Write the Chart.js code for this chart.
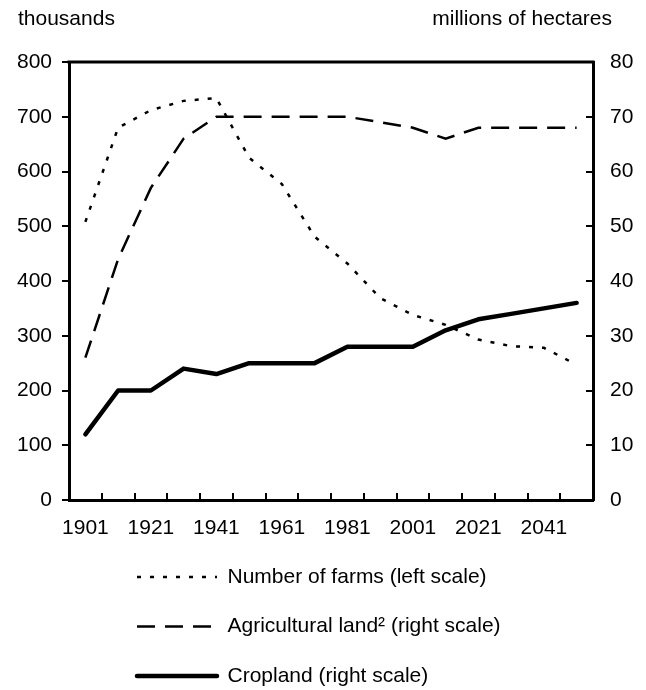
<!DOCTYPE html>
<html>
<head>
<meta charset="utf-8">
<title>Farms, agricultural land and cropland</title>
<script src="https://cdn.jsdelivr.net/npm/chart.js@4.4.1/dist/chart.umd.min.js"></script>
<style>
  html, body { margin: 0; padding: 0; background: #fff; }
  #wrap { width: 646px; height: 690px; position: relative; }
</style>
</head>
<body>
<div id="wrap"><canvas id="farmChart"></canvas></div>
<script>
// categories (one per plotted point) and series
const years = ['1901', '1911', '1921', '1931', '1941', '1951', '1961', '1971',
               '1981', '1991', '2001', '2011', '2021', '2031', '2041', '2051'];
const farms = [508, 680, 712, 729, 734, 625, 577, 481, 432, 369, 338, 320, 293, 281, 278, 247];       // thousands
const agriLand = [26, 44, 57, 66, 70, 70, 70, 70, 70, 69, 68, 66, 68, 68, 68, 68];                   // millions of ha
const cropland = [12, 20, 20, 24, 23, 25, 25, 25, 28, 28, 28, 31, 33, 34, 35, 36];                   // millions of ha

const leftTicks = [0, 800, 100];   // min, max, step
const rightTicks = [0, 80, 10];

const FONT = '"Liberation Sans", Arial, sans-serif';
const legendLeft = 108.5;

Chart.defaults.font.family = FONT;
Chart.defaults.font.size = 21;
Chart.defaults.color = '#000';

// top frame line, unit captions, and legend shift
const frameAndCaptions = {
    id: 'frameAndCaptions',
    afterLayout(chart) {
        if (chart.legend) chart.legend.left = legendLeft;
    },
    afterDraw(chart) {
        const { ctx, chartArea } = chart;
        ctx.save();
        ctx.strokeStyle = '#000';
        ctx.lineWidth = 3;
        ctx.beginPath();
        ctx.moveTo(chartArea.left - 1.5, chartArea.top);
        ctx.lineTo(chartArea.right + 1.5, chartArea.top);
        ctx.stroke();
        ctx.font = '21px ' + FONT;
        ctx.fillStyle = '#000';
        ctx.textBaseline = 'alphabetic';
        ctx.textAlign = 'left';
        ctx.fillText('thousands', 18, 25);
        ctx.textAlign = 'right';
        ctx.fillText('millions of hectares', 612, 25);
        ctx.restore();
    }
};

// legend samples take the line style of their dataset
function lineLegendLabels(chart) {
    const items = Chart.defaults.plugins.legend.labels.generateLabels(chart);
    return items.map(function(item) {
        const ds = chart.data.datasets[item.datasetIndex];
        item.pointStyle = 'line';
        item.strokeStyle = ds.borderColor;
        item.lineWidth = ds.borderWidth;
        item.lineDash = ds.borderDash || [];
        item.lineCap = ds.borderCapStyle || 'butt';
        return item;
    });
}

const ctx = document.getElementById('farmChart').getContext('2d');
new Chart(ctx, {
    type: 'line',
    data: {
        labels: years,
        datasets: [{
            label: 'Number of farms (left scale)',
            data: farms,
            yAxisID: 'y',
            borderColor: '#000',
            backgroundColor: '#000',
            borderWidth: 2.5,
            borderDash: [4, 9],
            pointRadius: 0,
            tension: 0
        }, {
            label: 'Agricultural land\u00b2 (right scale)',
            data: agriLand,
            yAxisID: 'y1',
            borderColor: '#000',
            backgroundColor: '#000',
            borderWidth: 2.5,
            borderDash: [18, 10],
            pointRadius: 0,
            tension: 0
        }, {
            label: 'Cropland (right scale)',
            data: cropland,
            yAxisID: 'y1',
            borderColor: '#000',
            backgroundColor: '#000',
            borderWidth: 4.5,
            borderCapStyle: 'round',
            borderJoinStyle: 'round',
            pointRadius: 0,
            tension: 0
        }]
    },
    options: {
        responsive: true,
        maintainAspectRatio: false,
        animation: false,
        layout: { padding: { top: 62, left: 0, right: 0, bottom: 0 } },
        scales: {
            x: {
                type: 'category',
                offset: true,
                afterFit: (s) => { s.height = 38; },
                grid: { drawOnChartArea: false, offset: true, tickLength: -7, color: '#000', lineWidth: 2 },
                border: { display: true, color: '#000', width: 3 },
                ticks: {
                    autoSkip: false,
                    maxRotation: 0,
                    padding: 23,
                    callback: function(val, idx) { return idx % 2 === 0 ? this.getLabelForValue(val) : ''; }
                }
            },
            y: {
                position: 'left',
                min: leftTicks[0],
                max: leftTicks[1],
                afterFit: (s) => { s.width = 69; },
                grid: { drawOnChartArea: false, tickLength: 7, color: '#000', lineWidth: 2 },
                border: { display: true, color: '#000', width: 3 },
                ticks: { stepSize: leftTicks[2], padding: 10 }
            },
            y1: {
                position: 'right',
                min: rightTicks[0],
                max: rightTicks[1],
                afterFit: (s) => { s.width = 53; },
                grid: { drawOnChartArea: false, tickLength: -7, color: '#000', lineWidth: 2 },
                border: { display: true, color: '#000', width: 3 },
                ticks: { stepSize: rightTicks[2], padding: 24 }
            }
        },
        plugins: {
            tooltip: { enabled: false },
            legend: {
                position: 'bottom',
                align: 'start',
                maxHeight: 152,
                labels: {
                    usePointStyle: true,
                    pointStyle: 'line',
                    pointStyleWidth: 80,
                    padding: 28.5,
                    font: { size: 21 },
                    generateLabels: lineLegendLabels
                }
            }
        }
    },
    plugins: [frameAndCaptions]
});
</script>
</body>
</html>
